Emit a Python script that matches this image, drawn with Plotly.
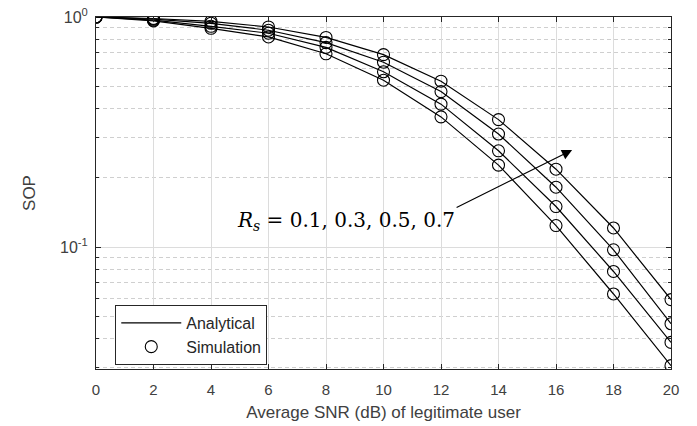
import math
import plotly.graph_objects as go

snr_db = [0, 2, 4, 6, 8, 10, 12, 14, 16, 18, 20]
rs_values = [0.7, 0.5, 0.3, 0.1]
sop_rs07 = [1.0, 0.985, 0.958, 0.905, 0.815, 0.686, 0.526, 0.358, 0.218, 0.121, 0.0591]
sop_rs05 = [1.0, 0.978, 0.939, 0.876, 0.774, 0.636, 0.474, 0.310, 0.182, 0.0973, 0.0464]
sop_rs03 = [1.0, 0.970, 0.911, 0.850, 0.738, 0.578, 0.418, 0.262, 0.150, 0.0783, 0.0385]
sop_rs01 = [1.0, 0.962, 0.893, 0.819, 0.692, 0.531, 0.368, 0.227, 0.124, 0.0625, 0.0305]
series = [sop_rs07, sop_rs05, sop_rs03, sop_rs01]

x_ticks = list(range(0, 21, 2))
y_ticks = [0.1, 1]
y_ticktext = ["10<sup>-1</sup>", "10<sup>0</sup>"]
y_minor = [0.03, 0.04, 0.05, 0.06, 0.07, 0.08, 0.09, 0.2, 0.3, 0.4, 0.5, 0.6, 0.7, 0.8, 0.9]

FONT = "Liberation Sans, Arial, sans-serif"

fig = go.Figure()
for i, s in enumerate(series):
    fig.add_trace(go.Scatter(x=snr_db, y=s, mode="lines", name="Analytical",
                             line=dict(color="black", width=1.2),
                             showlegend=(i == 0), legendrank=1))
for i, s in enumerate(series):
    fig.add_trace(go.Scatter(x=snr_db, y=s, mode="markers", name="Simulation",
                             marker=dict(symbol="circle-open", size=12, color="black",
                                         line=dict(width=1.1)),
                             showlegend=(i == 0), legendrank=2))

fig.add_annotation(x=16.56, y=math.log10(0.264), ax=12.49, ay=math.log10(0.1475),
                   xref="x", yref="y", axref="x", ayref="y",
                   showarrow=True, arrowhead=2, arrowsize=1.7, arrowwidth=1.2,
                   arrowcolor="black", text="")
fig.add_annotation(x=8.69, y=-0.887, xref="x", yref="y", showarrow=False,
                   text="<i>R</i><sub><i>s</i></sub> = 0.1, 0.3, 0.5, 0.7",
                   font=dict(family="DejaVu Serif, Liberation Serif, serif", size=20, color="black"))

axis_common = dict(showline=True, linecolor="#262626", linewidth=1, mirror="allticks",
                   ticks="inside", ticklen=5, tickcolor="#262626", automargin=False,
                   showgrid=True, gridcolor="#dcdcdc", gridwidth=1, zeroline=False,
                   tickfont=dict(family=FONT, size=15, color="#404040"))

fig.update_xaxes(range=[0, 20], tickvals=x_ticks, ticklabelstandoff=7,
                 title=dict(text="Average SNR (dB) of legitimate user",
                            font=dict(family=FONT, size=17, color="#404040"), standoff=9),
                 **axis_common)
fig.update_yaxes(type="log", range=[math.log10(0.0295), 0], tickvals=y_ticks, ticktext=y_ticktext,
                 ticklabelstandoff=4,
                 title=dict(text="SOP", font=dict(family=FONT, size=17, color="#404040"), standoff=20),
                 minor=dict(tickmode="array", tickvals=y_minor, showgrid=True,
                            gridcolor="#cfcfcf", griddash="4px,3px", gridwidth=1,
                            ticks="inside", ticklen=3, tickcolor="#262626"),
                 **axis_common)
fig.update_yaxes(tickfont=dict(family=FONT, size=16, color="#404040"))

fig.update_layout(
    width=697, height=426,
    margin=dict(l=96, r=26, t=17, b=57),
    paper_bgcolor="white", plot_bgcolor="white",
    legend=dict(x=0.0335, y=0.182, xanchor="left", yanchor="top",
                bgcolor="white", bordercolor="#262626", borderwidth=1,
                font=dict(family=FONT, size=16, color="#262626"),
                itemwidth=60, tracegroupgap=0),
)

fig.write_html("out.html")
